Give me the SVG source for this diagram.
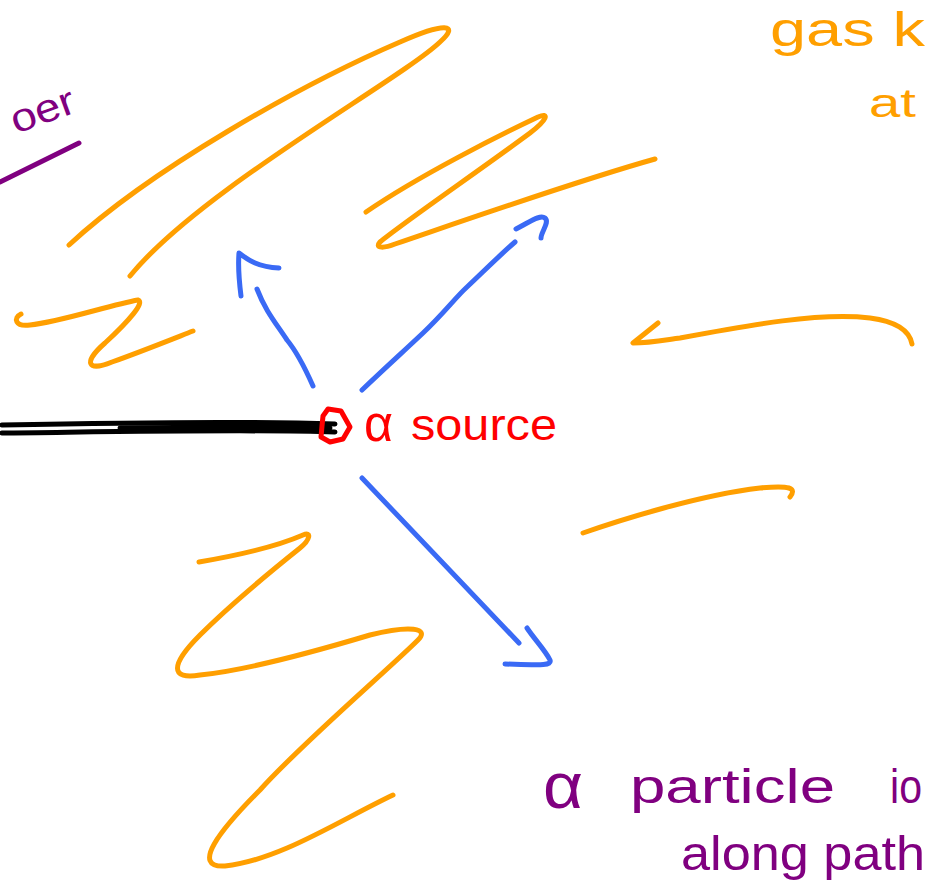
<svg xmlns="http://www.w3.org/2000/svg" width="930" height="883" viewBox="0 0 930 883">
<style>
.o{fill:none;stroke:#ff9f00;stroke-width:5;stroke-linecap:round;stroke-linejoin:round}
.b{fill:none;stroke:#3a6af5;stroke-width:5;stroke-linecap:round;stroke-linejoin:round}
.k{fill:none;stroke:#000;stroke-width:5;stroke-linecap:round}
.t{font-family:"Liberation Sans","DejaVu Sans",sans-serif}
</style>
<rect width="930" height="883" fill="#fff"/>
<g id="chamber-label">
<text class="t" x="16" y="134" font-size="40" fill="#800080" transform="rotate(-20 16 134)" textLength="66" lengthAdjust="spacingAndGlyphs">oer</text>
<path d="M0,182 L79,143" fill="none" stroke="#800080" stroke-width="5" stroke-linecap="round"/>
</g>
<g id="gas-label">
<text class="t" x="770" y="46" font-size="48" fill="#ff9f00" textLength="155" lengthAdjust="spacingAndGlyphs">gas k</text>
<text class="t" x="869" y="117" font-size="40" fill="#ff9f00" textLength="47" lengthAdjust="spacingAndGlyphs">at</text>
</g>
<g id="gas-strokes">
<path class="o" d="M69,245 C150,170 300,85 400,42 C445,22 460,24 440,42 C400,80 200,190 130,276"/>
<path class="o" d="M21,314 C13,318 15,327 30,325 C60,322 110,305 138,300 C145,302 130,320 105,343 C82,363 88,372 112,362 C140,352 170,340 193,331"/>
<path class="o" d="M366,212 C420,175 500,135 538,117 C550,112 547,120 530,133 C480,170 400,225 380,242 C374,249 385,248 395,244 C480,215 580,180 655,159"/>
<path class="o" d="M658,323 L633,343 C650,343 665,340 680,338 C750,325 820,312 870,318 C900,322 910,333 912,344"/>
<path class="o" d="M583,533 C620,520 700,495 760,488 C790,485 797,488 790,497"/>
<path class="o" d="M199,562 C240,555 280,545 303,535 C312,531 310,540 300,548 C270,572 230,605 200,635 C170,665 170,680 200,675 C250,670 320,650 370,635 C410,625 430,628 418,640 C390,668 300,745 260,790 C220,830 190,868 225,866 C280,860 340,820 393,795"/>
</g>
<g id="source">
<path class="k" d="M2,425 C100,423 250,421 335,424"/>
<path class="k" d="M2,433 C100,432 250,429 335,432"/>
<path class="k" d="M120,428 C200,427 280,426 330,428"/>
<path d="M328,409 L341,411 L350,427 L343,439 L330,442 L321,437 L322,426 L323,416 Z" fill="none" stroke="#ff0000" stroke-width="5" stroke-linejoin="round"/>
<text class="t" x="364" y="441" font-size="52" fill="#ff0000" textLength="29" lengthAdjust="spacingAndGlyphs">α</text>
<text class="t" x="411" y="440" font-size="44" fill="#ff0000" textLength="146" lengthAdjust="spacingAndGlyphs">source</text>
</g>
<g id="connectors">
<path class="b" d="M313,386 C305,368 297,352 287,340 C275,322 265,310 257,289"/>
<path class="b" d="M241,296 C239,280 238,265 239,253 C248,260 258,267 279,268"/>
<path class="b" d="M362,390 C385,368 405,350 423,333 C445,312 455,298 467,287 C485,270 500,255 515,242"/>
<path class="b" d="M516,229 C530,222 540,214 545,218 C550,222 541,232 541,238"/>
<path class="b" d="M362,478 L519,643"/>
<path class="b" d="M527,628 C535,640 545,650 550,660 C552,666 540,665 505,664"/>
</g>
<g id="ion-label">
<text class="t" x="543" y="808" font-size="64" fill="#800080" textLength="40" lengthAdjust="spacingAndGlyphs">α</text>
<text class="t" x="630" y="803" font-size="48" fill="#800080" textLength="205" lengthAdjust="spacingAndGlyphs">particle</text>
<text class="t" x="890" y="803" font-size="48" fill="#800080" textLength="32" lengthAdjust="spacingAndGlyphs">io</text>
<text class="t" x="681" y="870" font-size="48" fill="#800080" textLength="244" lengthAdjust="spacingAndGlyphs">along path</text>
</g>
</svg>
